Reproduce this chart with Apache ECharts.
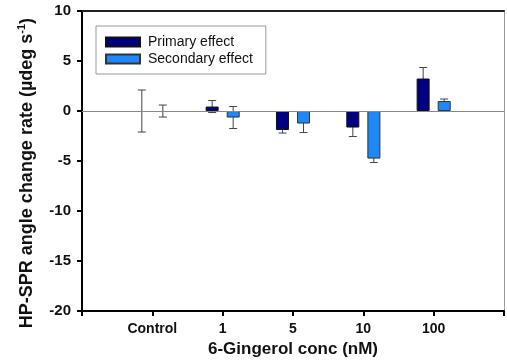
<!DOCTYPE html>
<html>
<head>
<meta charset="utf-8">
<script src="https://cdn.jsdelivr.net/npm/echarts@6/dist/echarts.min.js"></script>
<style>html,body{margin:0;padding:0;background:#fff}#c{width:507px;height:363px}</style>
</head>
<body>
<div id="c"></div>
<script>
var categories = ['Control', '1', '5', '10', '100'];
var primaryVals = [0, 0.45, -1.9, -1.65, 3.25];
var primaryErr = [2.1, 0.6, 0.3, 0.9, 1.1];
var secondaryVals = [0, -0.65, -1.25, -4.75, 1.0];
var secondaryErr = [0.6, 1.1, 0.9, 0.4, 0.2];
var yTicks = { min: -20, max: 10, interval: 5 };

var axisCats = [''].concat(categories).concat(['']);
function errData(vals, errs) {
  return vals.map(function (v, i) { return [i + 1, v, errs[i]]; });
}
function barData(vals) {
  // zero-height bars are not drawn in the reference
  return vals.map(function (v, i) { return v === 0 ? [i + 1, '-'] : [i + 1, v]; });
}
function errRender(offset) {
  return function (params, api) {
    var x = api.value(0), v = api.value(1), e = api.value(2);
    var hi = api.coord([x, v + e]);
    var lo = api.coord([x, v - e]);
    var cx = hi[0] + offset;
    var cap = 4;
    var st = { stroke: '#444', lineWidth: 1 };
    return {
      type: 'group',
      children: [
        { type: 'line', shape: { x1: cx, y1: hi[1], x2: cx, y2: lo[1] }, style: st },
        { type: 'line', shape: { x1: cx - cap, y1: hi[1], x2: cx + cap, y2: hi[1] }, style: st },
        { type: 'line', shape: { x1: cx - cap, y1: lo[1], x2: cx + cap, y2: lo[1] }, style: st }
      ]
    };
  };
}

var chart = echarts.init(document.getElementById('c'));
chart.setOption({
  animation: false,
  backgroundColor: '#fff',
  textStyle: { fontFamily: 'Liberation Sans, Arial, sans-serif' },
  grid: { left: 82, right: 1, top: 11, bottom: 45 },
  legend: {
    orient: 'vertical',
    left: 96, top: 26,
    padding: [9, 13, 8, 9],
    itemGap: 3,
    itemWidth: 34, itemHeight: 9,
    icon: 'rect',
    borderColor: '#9a9a9a', borderWidth: 1,
    backgroundColor: '#fff',
    textStyle: { fontSize: 14, color: '#111', padding: [0, 0, 0, 3] },
    data: ['Primary effect', 'Secondary effect']
  },
  xAxis: [{
    type: 'category',
    data: axisCats,
    boundaryGap: false,
    axisLine: { onZero: false, lineStyle: { color: '#000', width: 2 } },
    axisTick: { show: true, length: 5, interval: 0, lineStyle: { color: '#000', width: 2 } },
    axisLabel: { interval: 0, margin: 11, fontSize: 14, fontWeight: 'bold', color: '#111' },
    name: '6-Gingerol conc (nM)',
    nameLocation: 'middle',
    nameGap: 29,
    nameTextStyle: { fontSize: 17, fontWeight: 'bold', color: '#111' }
  }, {
    type: 'category',
    data: axisCats,
    boundaryGap: false,
    position: 'top',
    axisLine: { onZero: false, lineStyle: { color: '#222', width: 2 } },
    axisTick: { show: false },
    axisLabel: { show: false }
  }],
  yAxis: [{
    type: 'value',
    min: yTicks.min, max: yTicks.max, interval: yTicks.interval,
    axisLine: { show: true, onZero: false, lineStyle: { color: '#000', width: 2 } },
    axisTick: { show: true, length: 5, lineStyle: { color: '#000', width: 2 } },
    axisLabel: { margin: 11, fontSize: 15, fontWeight: 'bold', color: '#111' },
    splitLine: { show: false },
    name: '{a|HP-SPR angle change rate (µdeg s}{s|-1}{a|)}',
    nameLocation: 'middle',
    nameRotate: 90,
    nameGap: 44,
    nameTextStyle: {
      padding: [0, 24, 0, 0],
      rich: {
        a: { fontSize: 18, fontWeight: 'bold', color: '#111', lineHeight: 22 },
        s: { fontSize: 11, fontWeight: 'bold', color: '#111', verticalAlign: 'top', lineHeight: 22 }
      }
    }
  }, {
    type: 'value',
    position: 'right',
    min: yTicks.min, max: yTicks.max, interval: yTicks.interval,
    axisLine: { show: true, onZero: false, lineStyle: { color: '#999', width: 1 } },
    axisTick: { show: false },
    axisLabel: { show: false },
    splitLine: { show: false }
  }],
  series: [{
    name: 'err-primary',
    type: 'custom',
    renderItem: errRender(-10.5),
    data: errData(primaryVals, primaryErr),
    z: 1,
    silent: true
  }, {
    name: 'err-secondary',
    type: 'custom',
    renderItem: errRender(10.5),
    data: errData(secondaryVals, secondaryErr),
    z: 1,
    silent: true
  }, {
    name: 'Primary effect',
    type: 'bar',
    barWidth: 13,
    barGap: '62%',
    data: barData(primaryVals),
    itemStyle: { color: '#000080', borderColor: '#111', borderWidth: 1 },
    z: 3,
    markLine: {
      silent: true, symbol: 'none', label: { show: false },
      lineStyle: { color: '#888', width: 1, type: 'solid' },
      data: [{ yAxis: 0 }]
    }
  }, {
    name: 'Secondary effect',
    type: 'bar',
    barWidth: 13,
    barGap: '62%',
    data: barData(secondaryVals),
    itemStyle: { color: '#1E88F8', borderColor: '#333', borderWidth: 1 },
    z: 3
  }]
});
</script>
</body>
</html>
